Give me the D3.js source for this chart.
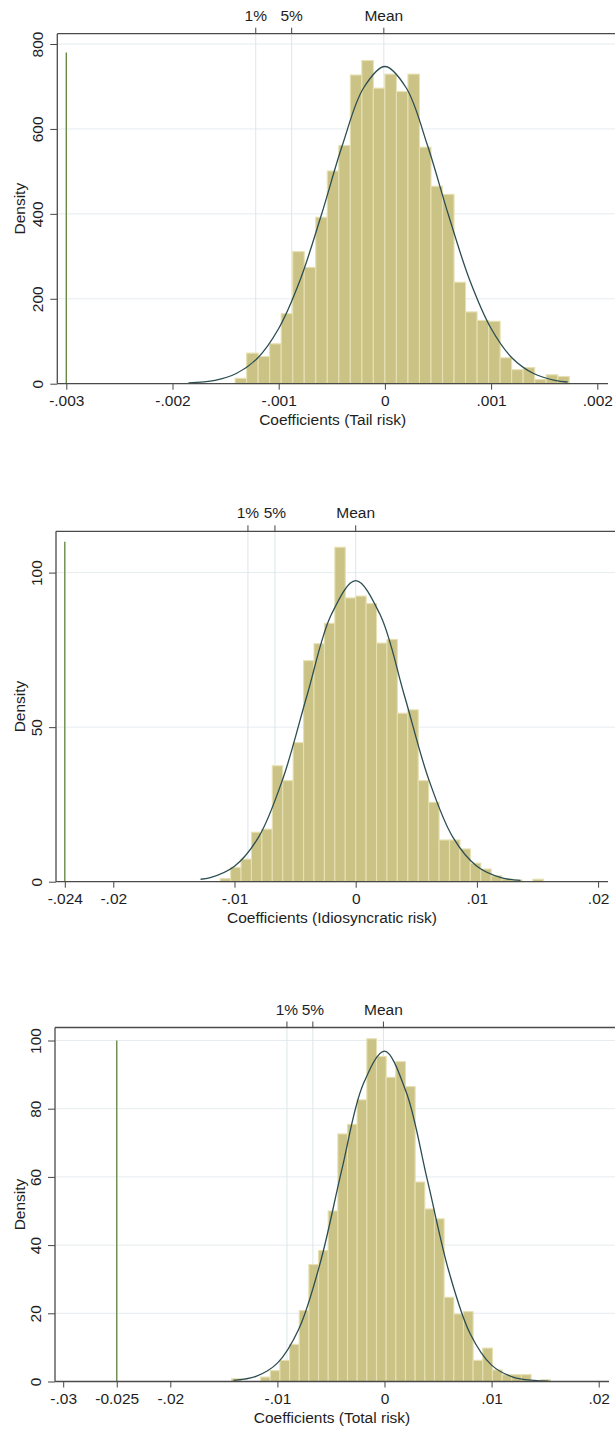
<!DOCTYPE html>
<html>
<head>
<meta charset="UTF-8">
<style>
  html, body { margin: 0; padding: 0; background: #fff; }
  svg { display: block; font-family: "Liberation Sans", Arial, sans-serif; }
</style>
<script src="https://d3js.org/d3.v7.min.js"></script>
</head>
<body>
<div id="viz"></div>
<script>
// ---------- data ----------
const markLabels = ["1%", "5%", "Mean"];

// panel 1: tail risk
const tailBinStart = -0.0014105, tailBinWidth = 0.0001085;
const tailDensity = [12.7, 72, 64, 94, 165, 311, 274, 392, 501, 561, 727, 761, 696,
  729, 688, 729, 557, 465, 446, 239, 169, 149, 147, 61, 33, 38, 10, 21, 17];
const tailCurveX = [-0.00185, -0.0016, -0.0014, -0.0012, -0.001, -0.0008, -0.0006, -0.0004, -0.0002,
  0, 0.0002, 0.0004, 0.0006, 0.0008, 0.001, 0.0012, 0.0014, 0.0016, 0.00172];
const tailCurveY = [2, 8, 24, 60, 130, 243, 396, 562, 697, 747, 697, 562, 396, 243, 130, 60, 24, 8, 4];
const tailMarks = [-0.001216, -0.000878, -0.00001];
const tailActual = -0.003, tailActualHeight = 780;
const tailXTicks = [-0.003, -0.002, -0.001, 0, 0.001, 0.002];
const tailXLabels = ["-.003", "-.002", "-.001", "0", ".001", ".002"];
const tailYTicks = [0, 200, 400, 600, 800];

// panel 2: idiosyncratic risk
const idioBinStart = -0.01118, idioBinWidth = 0.00086;
const idioDensity = [1, 4.6, 7.3, 16, 17, 37.5, 32.7, 45, 71.5, 77, 83.6, 108.2, 91.8,
  92.4, 90, 77.2, 78.4, 54.5, 55.6, 32.7, 25.7, 13.5, 13.5, 10.6, 6, 4.1, 1.9, 0.9, 0.5, 0, 0.8];
const idioCurveX = [-0.0128, -0.012, -0.01, -0.008, -0.006, -0.004, -0.002, 0,
  0.002, 0.004, 0.006, 0.008, 0.01, 0.012, 0.0136];
const idioCurveY = [0.8, 1.3, 5, 14.5, 33.4, 60.5, 86.5, 97.4, 86.5, 60.5, 33.4, 14.5, 5, 1.3, 0.4];
const idioMarks = [-0.00889, -0.00666, 0];
const idioActual = -0.024, idioActualHeight = 110;
const idioXTicks = [-0.024, -0.02, -0.01, 0, 0.01, 0.02];
const idioXLabels = ["-.024", "-.02", "-.01", "0", ".01", ".02"];
const idioYTicks = [0, 50, 100];

// panel 3: total risk
const totBinStart = -0.014276, totBinWidth = 0.000902;
const totDensity = [0.8, 0, 0, 1.3, 3.2, 6.2, 10.9, 20.8, 34.3, 38.4, 50, 72.6, 75.4, 82.6, 100.5, 95.3,
  89.2, 93.8, 86.5, 58.5, 50.6, 47.7, 24.7, 19.8, 20.5, 6.2, 9.8, 3.4, 2, 2, 2, 0, 0.5];
const totCurveX = [-0.0141, -0.012, -0.01, -0.008, -0.006, -0.004, -0.002, 0,
  0.002, 0.004, 0.006, 0.008, 0.01, 0.012, 0.014, 0.0153];
const totCurveY = [0.3, 1.5, 5.4, 15.4, 34.8, 61.9, 87.1, 96.9, 85.1, 59.1, 32.4, 14, 4.8, 1.3, 0.3, 0.1];
const totMarks = [-0.00911, -0.00669, -0.0001];
const totActual = -0.025, totActualHeight = 100;
const totXTicks = [-0.03, -0.025, -0.02, -0.01, 0, 0.01, 0.02];
const totXLabels = ["-.03", "-0.025", "-.02", "-.01", "0", ".01", ".02"];
const totYTicks = [0, 20, 40, 60, 80, 100];

// ---------- layout ----------
const W = 615, H = 1430, fs = 15.5;

const panels = [
  { title: "Coefficients (Tail risk)", binStart: tailBinStart, binWidth: tailBinWidth, density: tailDensity,
    curveX: tailCurveX, curveY: tailCurveY, marks: tailMarks, actual: tailActual, actualHeight: tailActualHeight,
    xTicks: tailXTicks, xLabels: tailXLabels, yTicks: tailYTicks,
    xDom: [-0.003, 0.002], xRange: [66.3, 597.3], yDom: [0, 800], yRange: [383.7, 44],
    left: 57.3, right: 608, top: 33.7 },
  { title: "Coefficients (Idiosyncratic risk)", binStart: idioBinStart, binWidth: idioBinWidth, density: idioDensity,
    curveX: idioCurveX, curveY: idioCurveY, marks: idioMarks, actual: idioActual, actualHeight: idioActualHeight,
    xTicks: idioXTicks, xLabels: idioXLabels, yTicks: idioYTicks,
    xDom: [-0.024, 0.02], xRange: [64.8, 598.1], yDom: [0, 100], yRange: [881.7, 572.6],
    left: 56, right: 608, top: 531.3 },
  { title: "Coefficients (Total risk)", binStart: totBinStart, binWidth: totBinWidth, density: totDensity,
    curveX: totCurveX, curveY: totCurveY, marks: totMarks, actual: totActual, actualHeight: totActualHeight,
    xTicks: totXTicks, xLabels: totXLabels, yTicks: totYTicks,
    xDom: [-0.03, 0.02], xRange: [63.2, 598.7], yDom: [0, 100], yRange: [1381.5, 1040.5],
    left: 55, right: 609, top: 1027.5 }
];

const svg = d3.select("#viz").append("svg")
    .attr("width", W)
    .attr("height", H)
    .attr("viewBox", [0, 0, W, H]);

panels.forEach(p => drawPanel(p));

function drawPanel(p) {
  const x = d3.scaleLinear().domain(p.xDom).range(p.xRange);
  const y = d3.scaleLinear().domain(p.yDom).range(p.yRange);
  const bottom = y(0);
  const g = svg.append("g");

  // light horizontal grid
  g.selectAll(".grid")
    .data(p.yTicks.filter(v => v > 0))
    .join("line")
      .attr("x1", p.left + 1).attr("x2", W)
      .attr("y1", d => y(d)).attr("y2", d => y(d))
      .attr("stroke", "#e6ecef").attr("stroke-width", 1);

  // percentile / mean reference lines
  g.selectAll(".ref")
    .data(p.marks)
    .join("line")
      .attr("x1", d => x(d)).attr("x2", d => x(d))
      .attr("y1", p.top).attr("y2", bottom)
      .attr("stroke", "#dde5ea").attr("stroke-width", 1);

  // histogram
  const bins = p.density.map((v, i) => ({
    x0: p.binStart + i * p.binWidth,
    x1: p.binStart + (i + 1) * p.binWidth,
    v
  })).filter(b => b.v > 0);

  g.selectAll("rect")
    .data(bins)
    .join("rect")
      .attr("x", b => x(b.x0))
      .attr("width", b => x(b.x1) - x(b.x0))
      .attr("y", b => y(b.v))
      .attr("height", b => bottom - y(b.v))
      .attr("fill", "#cbc386")
      .attr("stroke", "#e6e0b2")
      .attr("stroke-width", 1.1);

  // normal density curve
  const line = d3.line()
      .x((d, i) => x(p.curveX[i]))
      .y(d => y(d))
      .curve(d3.curveCatmullRom);
  g.append("path")
      .datum(p.curveY)
      .attr("d", line)
      .attr("fill", "none")
      .attr("stroke", "#2b4d52")
      .attr("stroke-width", 1.3);

  // actual coefficient
  g.append("line")
      .attr("x1", x(p.actual)).attr("x2", x(p.actual))
      .attr("y1", y(p.actualHeight)).attr("y2", bottom)
      .attr("stroke", "#6a8a48").attr("stroke-width", 1.4);

  // bottom axis
  const xa = g.append("g")
      .attr("transform", `translate(0,${bottom})`)
      .call(d3.axisBottom(x).tickValues(p.xTicks).tickFormat((d, i) => p.xLabels[i]).tickSize(6).tickPadding(5))
      .call(a => a.select(".domain").remove())
      .attr("font-size", fs).attr("font-family", null).attr("color", "#444");
  xa.selectAll("text").attr("fill", "#1e1e1e");
  g.append("line")
      .attr("x1", p.left).attr("x2", p.right)
      .attr("y1", bottom).attr("y2", bottom)
      .attr("stroke", "#4a4a4a").attr("stroke-width", 1.3);

  // left axis
  const ya = g.append("g")
      .attr("transform", `translate(${p.left},0)`)
      .call(d3.axisLeft(y).tickValues(p.yTicks).tickSize(7))
      .call(a => a.select(".domain").remove())
      .attr("font-size", fs).attr("font-family", null).attr("color", "#444");
  ya.selectAll("text")
      .attr("transform", "rotate(-90)")
      .attr("x", 0).attr("y", -14).attr("dy", 0)
      .attr("text-anchor", "middle")
      .attr("fill", "#1e1e1e");
  g.append("line")
      .attr("x1", p.left).attr("x2", p.left)
      .attr("y1", p.top).attr("y2", bottom)
      .attr("stroke", "#4a4a4a").attr("stroke-width", 1.3);

  // top axis with percentile labels
  g.append("line")
      .attr("x1", p.left).attr("x2", W)
      .attr("y1", p.top).attr("y2", p.top)
      .attr("stroke", "#4a4a4a").attr("stroke-width", 1.3);
  g.selectAll(".tt")
    .data(p.marks)
    .join("line")
      .attr("x1", d => x(d)).attr("x2", d => x(d))
      .attr("y1", p.top - 6).attr("y2", p.top)
      .attr("stroke", "#444").attr("stroke-width", 1);
  g.selectAll(".tl")
    .data(p.marks)
    .join("text")
      .attr("x", d => x(d))
      .attr("y", p.top - 13)
      .attr("text-anchor", "middle")
      .attr("font-size", fs)
      .attr("fill", "#1e1e1e")
      .text((d, i) => markLabels[i]);

  // titles
  g.append("text")
      .attr("transform", `translate(25,${(p.top + bottom) / 2}) rotate(-90)`)
      .attr("text-anchor", "middle")
      .attr("font-size", fs)
      .attr("fill", "#1e1e1e")
      .text("Density");
  g.append("text")
      .attr("x", (p.left + p.right) / 2)
      .attr("y", bottom + 41)
      .attr("text-anchor", "middle")
      .attr("font-size", fs)
      .attr("fill", "#1e1e1e")
      .text(p.title);
}
</script>
</body>
</html>
